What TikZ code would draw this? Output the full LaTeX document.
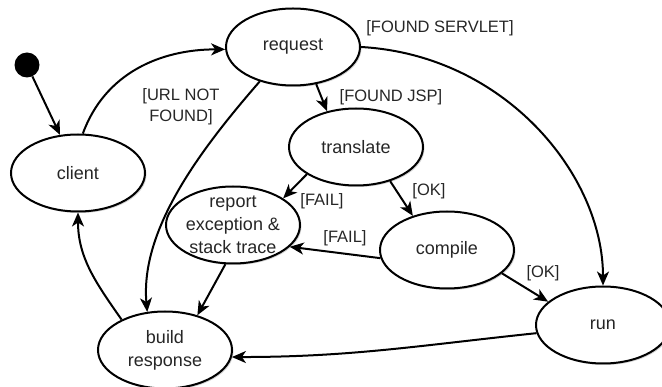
\documentclass[tikz,border=0pt]{standalone}
\usepackage{fontspec}
\setmainfont{Liberation Sans}
\usetikzlibrary{shapes.geometric,arrows.meta,shadows}
\begin{document}
\begin{tikzpicture}[x=1pt,y=1pt,
  font=\fontsize{16.5}{21}\selectfont,
  state/.style={ellipse, draw, line width=2pt, fill=white, inner sep=0pt,
    minimum width=134pt, minimum height=77pt, align=center, text=black!85,
    font=\fontsize{18}{23}\selectfont,
    drop shadow={shadow xshift=1.5pt,shadow yshift=-1.5pt,opacity=0.35}},
  edge/.style={line width=2pt, -{Stealth[length=14pt,width=12pt,inset=4pt]}},
  lbl/.style={inner sep=0pt, align=center, text=black!85},
  stlbl/.style={lbl, font=\fontsize{18}{23}\selectfont}]
\useasboundingbox (0,0) rectangle (662,-387);

\node[circle, fill=black, minimum size=25pt, inner sep=0pt] (start) at (27,-65) {};
\node[state] (client) at (78,-173) {client};
\node[state] (request) at (293,-47) {request};
\node[state] (translate) at (356,-147) {translate};
\node[state, label={[stlbl]center:{report\\exception \&\\stack trace}}] (report) at (233,-225) {};
\node[state] (compile) at (447,-250) {compile};
\node[state] (run) at (603,-325) {run};
\node[state] (build) at (165,-350) {build\\response};

\draw[edge] (start) -- (client);
\draw[edge] (client.83) to[out=70,in=180] (request.182);
\draw[edge] (request.226) .. controls (200,-150) and (140,-230) .. (build.115);
\draw[edge] (request.-58) -- (translate.129);
\draw[edge] (request.east) .. controls (505,-55) and (603,-175) .. (run.north);
\draw[edge] (translate.209) -- (report.28);
\draw[edge] (translate.-45) -- (compile.135);
\draw[edge] (compile.187) -- (report.-21);
\draw[edge] (compile.-23) -- (run.157);
\draw[edge] (report.259) -- (build.47);
\draw[edge] (run.187) to[out=186,in=0] (build.-6);
\draw[edge] (build.145) to[out=125,in=-90] (client.-90);

\node[lbl] (lurl) at (181,-107) {[URL NOT\\FOUND]};
\node[lbl] (lservlet) at (440,-28) {[FOUND SERVLET]};
\node[lbl] (ljsp) at (391,-97) {[FOUND JSP]};
\node[lbl] (lfail1) at (322,-201) {[FAIL]};
\node[lbl] (lok1) at (429,-191) {[OK]};
\node[lbl] (lfail2) at (345,-238) {[FAIL]};
\node[lbl] (lok2) at (543,-273) {[OK]};
\end{tikzpicture}
\end{document}
